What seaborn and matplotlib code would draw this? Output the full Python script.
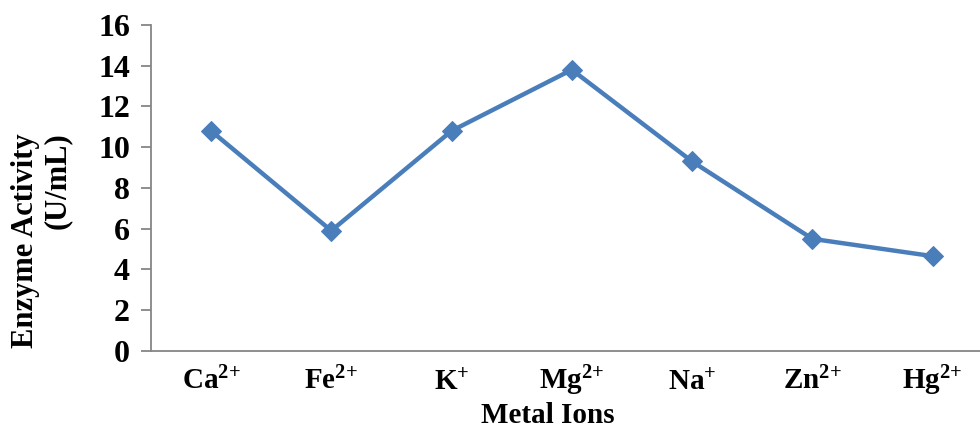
import matplotlib
matplotlib.use("Agg")
import matplotlib.pyplot as plt
import seaborn as sns
import pandas as pd

# data
ions = [r"Ca$^{\mathbf{2{+}}}$", r"Fe$^{\mathbf{2{+}}}$", r"K$^{\mathbf{{+}}}$", r"Mg$^{\mathbf{2{+}}}$",
        r"Na$^{\mathbf{{+}}}$", r"Zn$^{\mathbf{2{+}}}$", r"Hg$^{\mathbf{2{+}}}$"]
activity = [10.8, 5.9, 10.8, 13.8, 9.3, 5.5, 4.65]
y_ticks = [0, 2, 4, 6, 8, 10, 12, 14, 16]

df = pd.DataFrame({"ion": ions, "activity": activity})

sns.set_style("white")
plt.rcParams["font.family"] = ["Liberation Serif", "DejaVu Serif"]
plt.rcParams["font.weight"] = "bold"
plt.rcParams["mathtext.fontset"] = "custom"
plt.rcParams["mathtext.rm"] = "Liberation Serif:bold"
plt.rcParams["mathtext.bf"] = "Liberation Serif:bold"
plt.rcParams["mathtext.it"] = "Liberation Serif:bold"
plt.rcParams["text.color"] = "black"

fig = plt.figure(figsize=(9.8, 4.3), dpi=100)
ax = fig.add_axes([0.154, 0.184, 0.859, 0.758])

sns.lineplot(data=df, x="ion", y="activity", sort=False, ax=ax,
             color="#4a7ebb", linewidth=3.2, marker="D", markersize=10,
             markeredgecolor="#4a7ebb", markerfacecolor="#4a7ebb")

ax.set_xlim(-0.5, 6.5)
ax.set_ylim(0, 16)
ax.set_yticks(y_ticks)
ax.set_yticklabels([str(t) for t in y_ticks], fontsize=23, fontweight="bold")
ax.set_xticks(range(len(ions)))
ax.set_xticklabels(ions, fontsize=21, fontweight="bold")
for lab in ax.get_xticklabels():
    lab.set_verticalalignment("baseline")
ax.tick_params(axis="y", length=7, width=1.3, color="#868686", labelcolor="black",
               pad=8, direction="out", left=True)
ax.tick_params(axis="x", length=0, pad=28, labelcolor="black")

for side in ["top", "right"]:
    ax.spines[side].set_visible(False)
for side in ["left", "bottom"]:
    ax.spines[side].set_color("#868686")
    ax.spines[side].set_linewidth(1.3)

ax.set_xlabel("")
ax.set_ylabel("")
fig.text(0.559, 0.002, "Metal Ions", ha="center", va="bottom", fontsize=21, fontweight="bold")
fig.text(0.026, 0.44, "Enzyme Activity", rotation=90, ha="center", va="center",
         fontsize=22, fontweight="bold")
fig.text(0.059, 0.58, "(U/mL)", rotation=90, ha="center", va="center",
         fontsize=22, fontweight="bold")

fig.savefig("out.png", dpi=100)
